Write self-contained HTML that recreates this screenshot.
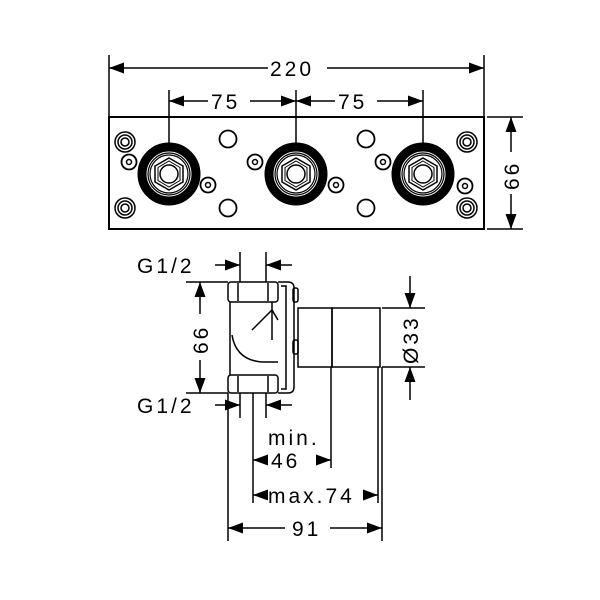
<!DOCTYPE html><html><head><style>body{margin:0;background:#fff}svg{display:block}text{font-family:"Liberation Sans",sans-serif;font-size:21px;fill:#000;letter-spacing:3px}</style></head><body>
<svg width="600" height="600" viewBox="0 0 600 600" stroke="#000" fill="none" stroke-width="1.5">
<defs>
<marker id="a" viewBox="0 0 15 11" refX="15" refY="5.5" markerWidth="15" markerHeight="11" markerUnits="userSpaceOnUse" orient="auto-start-reverse"><path d="M0,0L15,5.5L0,11z" fill="#000" stroke="none"/></marker>
<g id="fit"><circle r="27" stroke-width="9"/><circle r="21" stroke-width="1.2"/><circle r="19" stroke-width="1.2"/><polygon points="0,-16 14,-8 14,8 0,16 -14,8 -14,-8" stroke-width="1.5"/><polygon points="0,-13 11,-6.5 11,6.5 0,13 -11,6.5 -11,-6.5" stroke-width="1"/><circle r="9" stroke-width="1.5"/></g>
<g id="cc"><circle r="10"/><circle r="7"/><circle r="4"/></g>
<g id="sd"><circle r="7.5" stroke-width="1.8"/><circle r="2.5"/></g>
</defs>
<line x1="109" y1="55" x2="109" y2="117"/><line x1="484" y1="55" x2="484" y2="117"/>
<line x1="109" y1="68" x2="268" y2="68" marker-start="url(#a)"/><line x1="327" y1="68" x2="484" y2="68" marker-end="url(#a)"/>
<text x="270" y="76" stroke="none">220</text>
<line x1="169" y1="90" x2="169" y2="146"/><line x1="296" y1="90" x2="296" y2="146"/><line x1="423" y1="90" x2="423" y2="146"/>
<line x1="169" y1="101" x2="208" y2="101" marker-start="url(#a)"/><line x1="250" y1="101" x2="296" y2="101" marker-end="url(#a)"/>
<line x1="296" y1="101" x2="335" y2="101" marker-start="url(#a)"/><line x1="377" y1="101" x2="423" y2="101" marker-end="url(#a)"/>
<text x="211" y="109" stroke="none">75</text><text x="338" y="109" stroke="none">75</text>
<rect x="109" y="117" width="375" height="112" stroke-width="2"/>
<use href="#fit" x="169" y="174"/><use href="#fit" x="296" y="174"/><use href="#fit" x="423" y="174"/>
<use href="#cc" x="125" y="142"/><use href="#cc" x="125" y="208"/><use href="#cc" x="467" y="142"/><use href="#cc" x="467" y="208"/>
<use href="#sd" x="129" y="162"/><use href="#sd" x="208" y="185"/><use href="#sd" x="255" y="162"/><use href="#sd" x="336" y="185"/><use href="#sd" x="383" y="162"/><use href="#sd" x="465" y="186"/>
<circle cx="228" cy="139" r="8.5" stroke-width="1.8"/><circle cx="228" cy="208" r="8.5" stroke-width="1.8"/><circle cx="366" cy="139" r="8.5" stroke-width="1.8"/><circle cx="366" cy="208" r="8.5" stroke-width="1.8"/>
<line x1="487" y1="117" x2="523" y2="117"/><line x1="487" y1="229" x2="523" y2="229"/>
<line x1="511" y1="117" x2="511" y2="152" marker-start="url(#a)"/><line x1="511" y1="194" x2="511" y2="229" marker-end="url(#a)"/>
<text transform="translate(519,190) rotate(-90)" stroke="none">66</text>
<rect x="228" y="282" width="50" height="20" rx="3"/><line x1="238" y1="283" x2="238" y2="301"/><line x1="268" y1="283" x2="268" y2="301"/>
<rect x="228" y="375" width="50" height="18" rx="3"/><line x1="238" y1="376" x2="238" y2="392"/><line x1="268" y1="376" x2="268" y2="392"/>
<line x1="230" y1="302" x2="230" y2="375"/>
<path d="M232,335 Q236,360 262,362 L278,362"/>
<path d="M278,282 h10 q6,0 6,6 v99 q0,6 -6,6 h-10"/>
<path d="M281,286 h5 v103 h-5"/>
<rect x="293" y="288" width="5" height="14" rx="2"/><rect x="293" y="340" width="5" height="14" rx="2"/>
<path d="M252,330 L272,310 L278,320"/><line x1="272" y1="302" x2="272" y2="340"/>
<rect x="298" y="308" width="34" height="59"/><rect x="332" y="308" width="48" height="59"/>
<line x1="240" y1="252" x2="240" y2="282"/><line x1="266" y1="252" x2="266" y2="282"/>
<line x1="215" y1="265" x2="240" y2="265" marker-end="url(#a)"/><line x1="292" y1="265" x2="266" y2="265" marker-end="url(#a)"/>
<text x="137" y="273" stroke="none">G1/2</text>
<line x1="240" y1="393" x2="240" y2="418"/><line x1="266" y1="393" x2="266" y2="418"/>
<line x1="215" y1="405" x2="240" y2="405" marker-end="url(#a)"/><line x1="292" y1="405" x2="266" y2="405" marker-end="url(#a)"/>
<text x="137" y="413" stroke="none">G1/2</text>
<line x1="186" y1="282" x2="228" y2="282"/><line x1="186" y1="393" x2="228" y2="393"/>
<line x1="200" y1="282" x2="200" y2="314" marker-start="url(#a)"/><line x1="200" y1="360" x2="200" y2="393" marker-end="url(#a)"/>
<text transform="translate(208,354) rotate(-90)" stroke="none">66</text>
<line x1="382" y1="308" x2="425" y2="308"/><line x1="382" y1="367" x2="425" y2="367"/>
<line x1="410" y1="276" x2="410" y2="308" marker-end="url(#a)"/><line x1="410" y1="400" x2="410" y2="367" marker-end="url(#a)"/>
<text transform="translate(418,364) rotate(-90)" stroke="none">Ø33</text>
<line x1="228" y1="393" x2="228" y2="541"/><line x1="253" y1="393" x2="253" y2="503"/>
<line x1="331" y1="367" x2="331" y2="468"/><line x1="378" y1="367" x2="378" y2="503"/><line x1="382" y1="367" x2="382" y2="541"/>
<line x1="253" y1="460" x2="268" y2="460" marker-start="url(#a)"/><line x1="316" y1="460" x2="331" y2="460" marker-end="url(#a)"/>
<text x="268" y="445" stroke="none">min.</text><text x="271" y="468" stroke="none">46</text>
<line x1="253" y1="495" x2="268" y2="495" marker-start="url(#a)"/><line x1="363" y1="495" x2="378" y2="495" marker-end="url(#a)"/>
<text x="268" y="503" stroke="none">max.74</text>
<line x1="228" y1="528" x2="285" y2="528" marker-start="url(#a)"/><line x1="330" y1="528" x2="382" y2="528" marker-end="url(#a)"/>
<text x="292" y="536" stroke="none">91</text>
</svg></body></html>
